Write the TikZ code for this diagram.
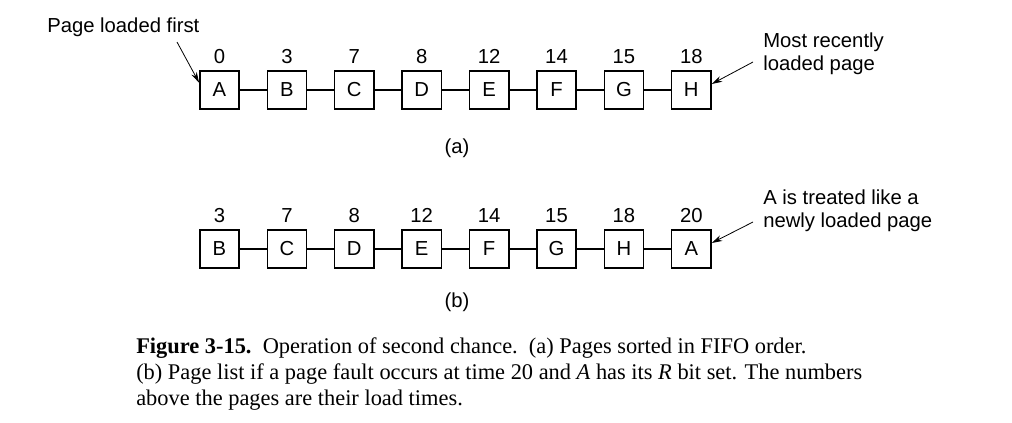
\documentclass[tikz,border=0pt]{standalone}
\usepackage{fontspec}
\setmainfont{Liberation Serif}
\newfontfamily\sansf{Liberation Sans}
\usetikzlibrary{arrows.meta}
\begin{document}
\begin{tikzpicture}[x=0.75pt,y=-0.75pt,
  pagebox/.style={draw, line width=1.1pt, minimum width=29.5pt, minimum height=28.5pt, inner sep=0pt, font=\sansf\fontsize{15.2}{18}\selectfont},
  loadtime/.style={anchor=base, inner sep=0pt, font=\sansf\fontsize{15.2}{18}\selectfont},
  link/.style={line width=1.1pt},
  pointer/.style={line width=0.6pt, -{Stealth[length=8pt, width=4.5pt]}},
  label/.style={inner sep=0pt, font=\sansf\fontsize{15.2}{17}\selectfont},
  captxt/.style={anchor=base west, inner sep=0pt, font=\fontsize{16.8}{19}\selectfont}]
\useasboundingbox (0,0) rectangle (1012,422);
% row (a)
\foreach \n/\t [count=\i from 0] in {A/0,B/3,C/7,D/8,E/12,F/14,G/15,H/18} {
  \node[pagebox] (a\n) at ({219.5+67.4*\i},90) {\n};
  \node[loadtime] (ta\n) at ({219.5+67.4*\i},63) {\t};
}
\foreach \p/\q in {A/B,B/C,C/D,D/E,E/F,F/G,G/H} \draw[link] (a\p.east) -- (a\q.west);
% row (b)
\foreach \n/\t [count=\i from 0] in {B/3,C/7,D/8,E/12,F/14,G/15,H/18,A/20} {
  \node[pagebox] (b\n) at ({219.5+67.4*\i},249) {\n};
  \node[loadtime] (tb\n) at ({219.5+67.4*\i},222) {\t};
}
\foreach \p/\q in {B/C,C/D,D/E,E/F,F/G,G/H,H/A} \draw[link] (b\p.east) -- (b\q.west);
% sub-labels
\node[label] (la) at (457,148) {(a)};
\node[label] (lb) at (457,302) {(b)};
% annotations
\node[label, anchor=base west] (first) at (47,32) {Page loaded first};
\coordinate (firstend) at (177,42);
\draw[pointer] (firstend) -- ([yshift=5.5pt]aA.west);
\node[label, anchor=north west, align=left] (recent) at (763,33) {Most recently\\loaded page};
\coordinate (recentend) at (753,62);
\draw[pointer] (recentend) -- ([yshift=4.5pt]aH.east);
\node[label, anchor=north west, align=left] (treated) at (763,190) {A is treated like a\\newly loaded page};
\coordinate (treatedend) at (753,222);
\draw[pointer] (treatedend) -- ([yshift=4.5pt]bA.east);
% caption
\node[captxt] (cap1) at (136,353) {\textbf{Figure 3-15.}\ \ Operation of second chance.\ \ (a) Pages sorted in FIFO order.};
\node[captxt] (cap2) at (136,379) {(b) Page list if a page fault occurs at time 20 and \textit{A} has its \textit{R} bit set. The numbers};
\node[captxt] (cap3) at (136,405) {above the pages are their load times.};
\end{tikzpicture}
\end{document}
